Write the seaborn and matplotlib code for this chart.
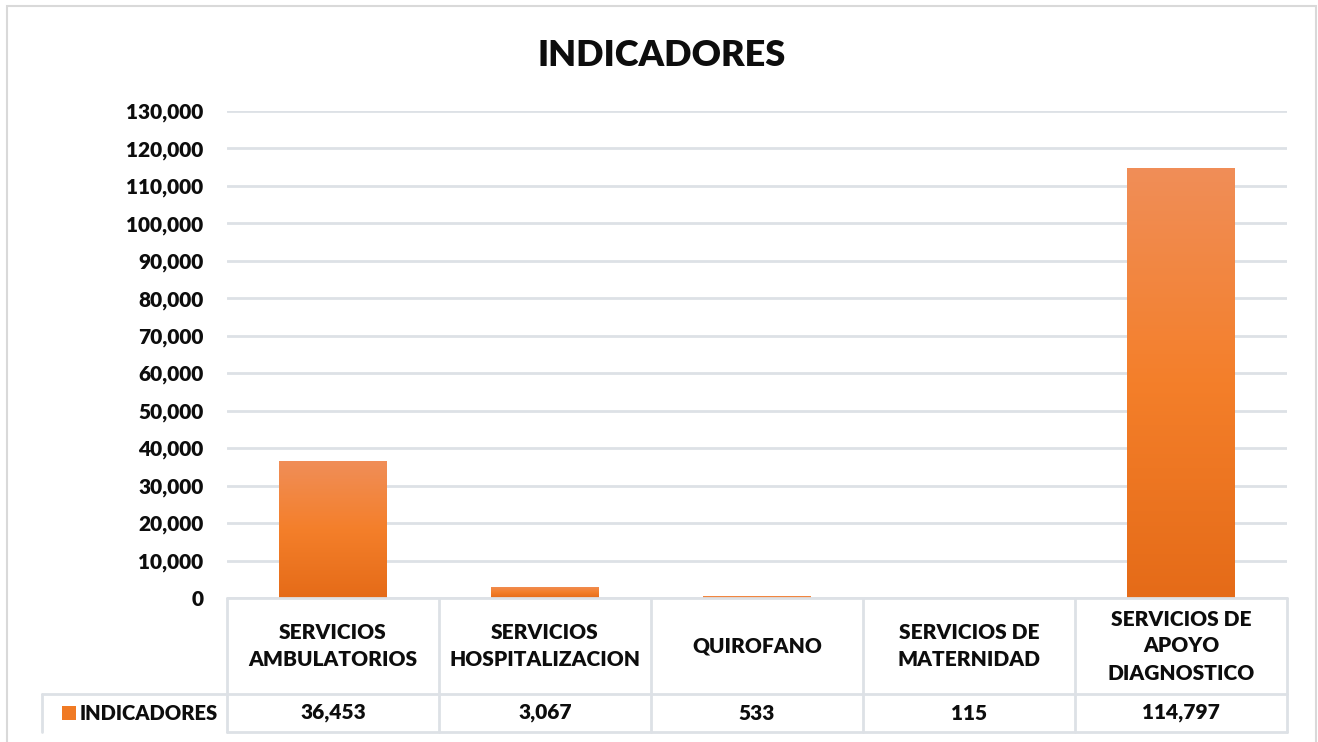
import numpy as np
import pandas as pd
import matplotlib
matplotlib.use("Agg")
import matplotlib.pyplot as plt
import matplotlib.transforms as mtransforms
from matplotlib.colors import LinearSegmentedColormap
from matplotlib.patches import Rectangle
import seaborn as sns

categories = ["SERVICIOS\nAMBULATORIOS", "SERVICIOS\nHOSPITALIZACION", "QUIROFANO",
              "SERVICIOS DE\nMATERNIDAD", "SERVICIOS DE\nAPOYO\nDIAGNOSTICO"]
values = [36453, 3067, 533, 115, 114797]
series_name = "INDICADORES"
y_ticks = list(range(0, 130001, 10000))

GRID = "#DDE1E6"
TXT = "#0D0D0D"
WT = "heavy"
grad = LinearSegmentedColormap.from_list("og", ["#E56B18", "#F47F2A", "#F08E58"])

sns.set_theme(style="white")
plt.rcParams["font.family"] = ["Lato", "DejaVu Sans"]

df = pd.DataFrame({"cat": categories, "val": values})

fig = plt.figure(figsize=(13.18, 7.42), dpi=100)
ax = fig.add_axes([227 / 1318, 1 - 598 / 742, 1060 / 1318, 487 / 742])

sns.barplot(data=df, x="cat", y="val", color="#F47F2A", width=0.505, ax=ax,
            saturation=1, zorder=3)

# gradient fill per bar
for p in ax.patches:
    x0, y0 = p.get_x(), p.get_y()
    w, h = p.get_width(), p.get_height()
    p.set_facecolor("none")
    p.set_edgecolor("none")
    g = np.linspace(0, 1, 256).reshape(-1, 1)
    im = ax.imshow(g, cmap=grad, aspect="auto", origin="lower",
                   extent=(x0, x0 + w, y0, y0 + h), zorder=3)
    im.set_clip_path(p)

ax.set_xlim(-0.5, len(categories) - 0.5)
ax.set_ylim(0, 130000)
ax.set_yticks(y_ticks)
ax.set_yticklabels([f"{v:,}" for v in y_ticks], fontsize=15, fontweight=WT, color=TXT)
ax.tick_params(axis="y", length=0, pad=17)
ax.set_xticks([])
ax.set_xlabel("")
ax.set_ylabel("")
for s in ax.spines.values():
    s.set_visible(False)
ax.grid(axis="y", color=GRID, linewidth=2)
ax.set_axisbelow(True)

# data table below the plot
tr = mtransforms.blended_transform_factory(ax.transData, ax.transAxes)
y_top, y_mid, y_bot = 0.0, -96 / 487, -134 / 487
n = len(categories)
kw = dict(color=GRID, linewidth=2, clip_on=False, zorder=4)
ax.plot([-0.5, n - 0.5], [y_top, y_top], transform=tr, **kw)
ax.plot([-0.5, n - 0.5], [y_bot, y_bot], transform=tr, **kw)
ax.plot([-0.5 - 185 / 212, n - 0.5], [y_mid, y_mid], transform=tr, **kw)
ax.plot([-0.5 - 185 / 212, -0.5 - 185 / 212], [y_mid, y_bot], transform=tr, **kw)
for i in range(n + 1):
    ax.plot([i - 0.5, i - 0.5], [y_top, y_bot], transform=tr, **kw)

for i, (c, v) in enumerate(zip(categories, values)):
    ax.text(i, (y_top + y_mid) / 2, c, transform=tr, ha="center", va="center",
            fontsize=15, fontweight=WT, color=TXT, linespacing=1.5)
    ax.text(i, (y_mid + y_bot) / 2, f"{v:,}", transform=tr, ha="center", va="center",
            fontsize=15, fontweight=WT, color=TXT)

# legend key in the table
ax.add_patch(Rectangle((-0.5 - 165 / 212, (y_mid + y_bot) / 2 - 0.015), 14 / 212, 0.03,
                       transform=tr, facecolor="#F07A24", edgecolor="none", clip_on=False))
ax.text(-0.5 - 147 / 212, (y_mid + y_bot) / 2, series_name, transform=tr, ha="left",
        va="center", fontsize=14.5, fontweight=WT, color=TXT)

fig.text(662 / 1318, 1 - 55 / 742, "INDICADORES", ha="center", va="center",
         fontsize=26, fontweight=WT, color=TXT)

# outer chart border
fig.patches.append(Rectangle((7 / 1318, -0.01), 1309 / 1318, 1 - 6 / 742 + 0.01,
                             transform=fig.transFigure, fill=False, edgecolor="#D9D9D9",
                             linewidth=1.5))

fig.savefig("out.png", dpi=100)
